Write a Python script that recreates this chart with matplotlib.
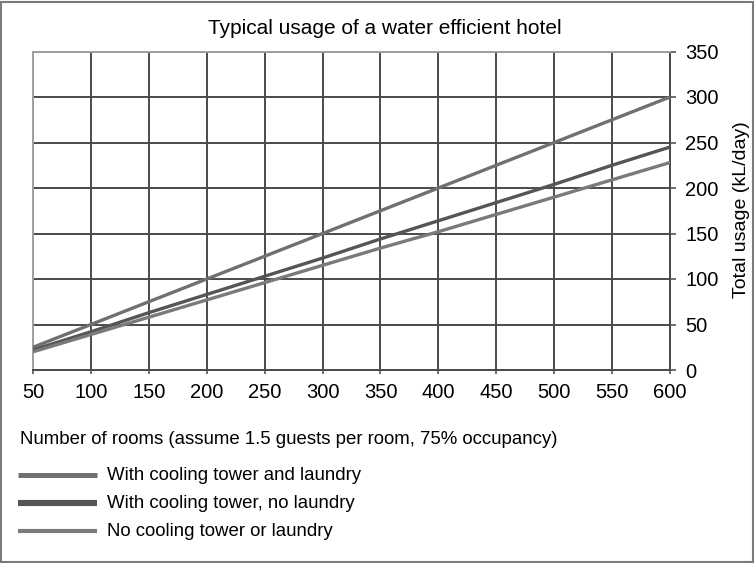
import matplotlib
matplotlib.use("Agg")
import matplotlib.pyplot as plt
from matplotlib.lines import Line2D
from matplotlib.patches import Rectangle

plt.rcParams['font.family'] = ['Liberation Sans', 'DejaVu Sans']

rooms = [50, 100, 150, 200, 250, 300, 350, 400, 450, 500, 550, 600]
with_tower_laundry = [25, 50, 75, 100, 125, 150, 175, 200, 225, 250, 275, 300]
with_tower_no_laundry = [22, 42, 63, 83, 103, 123, 144, 164, 184, 204, 225, 245]
no_tower_no_laundry = [20, 39, 58, 77, 96, 115, 134, 152, 171, 190, 209, 228]

series_labels = ["With cooling tower and laundry",
                 "With cooling tower, no laundry",
                 "No cooling tower or laundry"]
series_values = [with_tower_laundry, with_tower_no_laundry, no_tower_no_laundry]
series_colors = ["#707070", "#555555", "#7a7a7a"]
legend_widths = [3.6, 4.4, 3.0]

x_ticks = [50, 100, 150, 200, 250, 300, 350, 400, 450, 500, 550, 600]
y_ticks = [0, 50, 100, 150, 200, 250, 300, 350]

W, H = 755, 563
fig = plt.figure(figsize=(W / 100, H / 100), dpi=100)
ax = fig.add_axes([33 / W, 1 - 370 / H, (670 - 33) / W, (370 - 51.5) / H])

ax.set_xlim(50, 600)
ax.set_ylim(0, 350)
ax.set_xticks(x_ticks)
ax.set_yticks(y_ticks)
ax.yaxis.tick_right()
ax.tick_params(axis='y', which='both', length=4, width=1.2, color="#555555",
               labelsize=14.5, pad=7, left=False)
ax.tick_params(axis='x', length=3, width=1.2, color="#555555", labelsize=14.5, pad=6)

ax.grid(True, color="#4a4a4a", linewidth=1.4)
ax.set_axisbelow(True)
for name, sp in ax.spines.items():
    sp.set_linewidth(1.4)
    sp.set_color("#4a4a4a")
ax.spines['top'].set_color("#a0a0a0")
ax.spines['left'].set_color("#a0a0a0")

for vals, col in zip(series_values, series_colors):
    ax.plot(rooms, vals, color=col, linewidth=2.4, solid_capstyle='butt', zorder=3)

fig.text(742 / W, 1 - 210 / H, "Total usage (kL/day)", rotation=90,
         ha='center', va='center', fontsize=14)

fig.text(385 / W, 1 - 28 / H, "Typical usage of a water efficient hotel",
         ha='center', va='center', fontsize=15)
fig.text(20 / W, 1 - 440 / H,
         "Number of rooms (assume 1.5 guests per room, 75% occupancy)",
         ha='left', va='center', fontsize=13.4)

# legend drawn in figure coordinates
for i, (lab, col, lw) in enumerate(zip(series_labels, series_colors, legend_widths)):
    yy = 1 - (475 + 28 * i) / H
    fig.add_artist(Line2D([18 / W, 97 / W], [yy, yy], transform=fig.transFigure,
                          color=col, linewidth=lw, solid_capstyle='butt'))
    fig.text(107 / W, yy, lab, ha='left', va='center', fontsize=13.4)

# outer frame
fig.add_artist(Rectangle((1 / W, 1 / H), (W - 3) / W, (H - 3) / H,
                         transform=fig.transFigure, fill=False,
                         edgecolor="#7a7a7a", linewidth=1.5))

fig.savefig("out.png", dpi=100)
